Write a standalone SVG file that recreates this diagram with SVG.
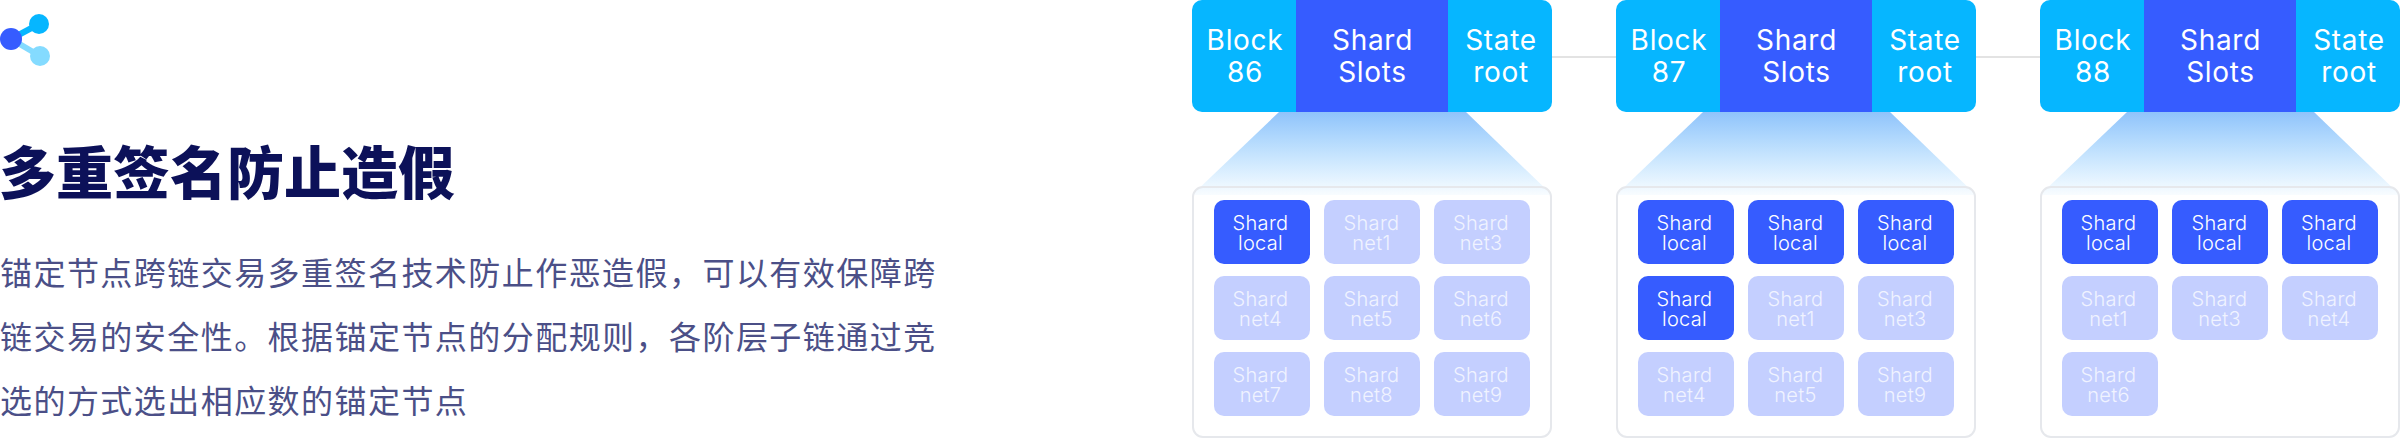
<svg xmlns="http://www.w3.org/2000/svg" width="2400" height="438" viewBox="0 0 2400 438">
<style>
text{font-family:Inter,"Noto Sans",sans-serif;text-anchor:middle}
.h{fill:#06b6ff}.m{fill:#365cff}
.t{font-size:28px;fill:#fff;letter-spacing:.7px}
.s{font-size:20px;fill:#fff;font-weight:300;letter-spacing:.3px}
.d{fill:#f0f3ff}
.on{fill:#365cff}
.off{fill:#c4cfff}
.p{fill:none;stroke:#e6e8ec;stroke-width:2}
.cn{stroke:#e3e3e3;stroke-width:2;fill:none}
.zh{font-family:"Noto Sans CJK SC",sans-serif;text-anchor:start}
.title{font-size:57px;font-weight:900;fill:#0c1159}
.body{font-size:32px;fill:#4b4f87;letter-spacing:1.45px}
</style>
<defs>
<linearGradient id="fade" x1="0" y1="0" x2="0" y2="1"><stop offset="0" stop-color="#8fc3fb"/><stop offset="1" stop-color="#8fd0ff" stop-opacity="0.06"/></linearGradient>
<g id="blk"><polygon points="87,112 274,112 360,195 0,195" fill="url(#fade)"/><rect class="p" x="1" y="187" width="358" height="250" rx="10"/><rect class="h" width="360" height="112" rx="10"/><rect class="m" x="104" width="152" height="112"/></g>
</defs>
<g id="icon"><path d="M11 39L39 24" stroke="#06b6ff" stroke-width="6"/><path d="M11 39L40 56" stroke="#84dbff" stroke-width="6"/><circle cx="39" cy="24" r="10" fill="#06b6ff"/><circle cx="40" cy="56" r="10" fill="#84dbff"/><circle cx="11" cy="39" r="11" fill="#365cff"/></g>
<text class="zh title" x="-1" y="194">多重签名防止造假</text>
<g id="desc"><text class="zh body" x="0" y="285">锚定节点跨链交易多重签名技术防止作恶造假，可以有效保障跨</text>
<text class="zh body" x="0" y="349">链交易的安全性。根据锚定节点的分配规则，各阶层子链通过竞</text>
<text class="zh body" x="0" y="413">选的方式选出相应数的锚定节点</text></g>
<g id="connectors"><path class="cn" d="M1552 57H1616M1976 57H2040"/></g>
<g id="block86"><use href="#blk" x="1192"/>
<text class="t" x="1245" y="50">Block</text><text class="t" x="1245" y="82">86</text><text class="t" x="1372.5" y="50">Shard</text><text class="t" x="1372.5" y="82">Slots</text><text class="t" x="1501" y="50">State</text><text class="t" x="1501" y="82">root</text></g>
<g id="block87"><use href="#blk" x="1616"/>
<text class="t" x="1669" y="50">Block</text><text class="t" x="1669" y="82">87</text><text class="t" x="1796.5" y="50">Shard</text><text class="t" x="1796.5" y="82">Slots</text><text class="t" x="1925" y="50">State</text><text class="t" x="1925" y="82">root</text></g>
<g id="block88"><use href="#blk" x="2040"/>
<text class="t" x="2093" y="50">Block</text><text class="t" x="2093" y="82">88</text><text class="t" x="2220.5" y="50">Shard</text><text class="t" x="2220.5" y="82">Slots</text><text class="t" x="2349" y="50">State</text><text class="t" x="2349" y="82">root</text></g>
<g id="cells86">
<rect class="on" x="1214" y="200" width="96" height="64" rx="10"/><text class="s" x="1260.5" y="230">Shard</text><text class="s" x="1260.5" y="250">local</text>
<rect class="off" x="1324" y="200" width="96" height="64" rx="10"/><text class="s d" x="1371.5" y="230">Shard</text><text class="s d" x="1371.5" y="250">net1</text>
<rect class="off" x="1434" y="200" width="96" height="64" rx="10"/><text class="s d" x="1481" y="230">Shard</text><text class="s d" x="1481" y="250">net3</text>
<rect class="off" x="1214" y="276" width="96" height="64" rx="10"/><text class="s d" x="1260.5" y="306">Shard</text><text class="s d" x="1260.5" y="326">net4</text>
<rect class="off" x="1324" y="276" width="96" height="64" rx="10"/><text class="s d" x="1371.5" y="306">Shard</text><text class="s d" x="1371.5" y="326">net5</text>
<rect class="off" x="1434" y="276" width="96" height="64" rx="10"/><text class="s d" x="1481" y="306">Shard</text><text class="s d" x="1481" y="326">net6</text>
<rect class="off" x="1214" y="352" width="96" height="64" rx="10"/><text class="s d" x="1260.5" y="382">Shard</text><text class="s d" x="1260.5" y="402">net7</text>
<rect class="off" x="1324" y="352" width="96" height="64" rx="10"/><text class="s d" x="1371.5" y="382">Shard</text><text class="s d" x="1371.5" y="402">net8</text>
<rect class="off" x="1434" y="352" width="96" height="64" rx="10"/><text class="s d" x="1481" y="382">Shard</text><text class="s d" x="1481" y="402">net9</text>
</g>
<g id="cells87">
<rect class="on" x="1638" y="200" width="96" height="64" rx="10"/><text class="s" x="1684.5" y="230">Shard</text><text class="s" x="1684.5" y="250">local</text>
<rect class="on" x="1748" y="200" width="96" height="64" rx="10"/><text class="s" x="1795.5" y="230">Shard</text><text class="s" x="1795.5" y="250">local</text>
<rect class="on" x="1858" y="200" width="96" height="64" rx="10"/><text class="s" x="1905" y="230">Shard</text><text class="s" x="1905" y="250">local</text>
<rect class="on" x="1638" y="276" width="96" height="64" rx="10"/><text class="s" x="1684.5" y="306">Shard</text><text class="s" x="1684.5" y="326">local</text>
<rect class="off" x="1748" y="276" width="96" height="64" rx="10"/><text class="s d" x="1795.5" y="306">Shard</text><text class="s d" x="1795.5" y="326">net1</text>
<rect class="off" x="1858" y="276" width="96" height="64" rx="10"/><text class="s d" x="1905" y="306">Shard</text><text class="s d" x="1905" y="326">net3</text>
<rect class="off" x="1638" y="352" width="96" height="64" rx="10"/><text class="s d" x="1684.5" y="382">Shard</text><text class="s d" x="1684.5" y="402">net4</text>
<rect class="off" x="1748" y="352" width="96" height="64" rx="10"/><text class="s d" x="1795.5" y="382">Shard</text><text class="s d" x="1795.5" y="402">net5</text>
<rect class="off" x="1858" y="352" width="96" height="64" rx="10"/><text class="s d" x="1905" y="382">Shard</text><text class="s d" x="1905" y="402">net9</text>
</g>
<g id="cells88">
<rect class="on" x="2062" y="200" width="96" height="64" rx="10"/><text class="s" x="2108.5" y="230">Shard</text><text class="s" x="2108.5" y="250">local</text>
<rect class="on" x="2172" y="200" width="96" height="64" rx="10"/><text class="s" x="2219.5" y="230">Shard</text><text class="s" x="2219.5" y="250">local</text>
<rect class="on" x="2282" y="200" width="96" height="64" rx="10"/><text class="s" x="2329" y="230">Shard</text><text class="s" x="2329" y="250">local</text>
<rect class="off" x="2062" y="276" width="96" height="64" rx="10"/><text class="s d" x="2108.5" y="306">Shard</text><text class="s d" x="2108.5" y="326">net1</text>
<rect class="off" x="2172" y="276" width="96" height="64" rx="10"/><text class="s d" x="2219.5" y="306">Shard</text><text class="s d" x="2219.5" y="326">net3</text>
<rect class="off" x="2282" y="276" width="96" height="64" rx="10"/><text class="s d" x="2329" y="306">Shard</text><text class="s d" x="2329" y="326">net4</text>
<rect class="off" x="2062" y="352" width="96" height="64" rx="10"/><text class="s d" x="2108.5" y="382">Shard</text><text class="s d" x="2108.5" y="402">net6</text>
</g>
</svg>
